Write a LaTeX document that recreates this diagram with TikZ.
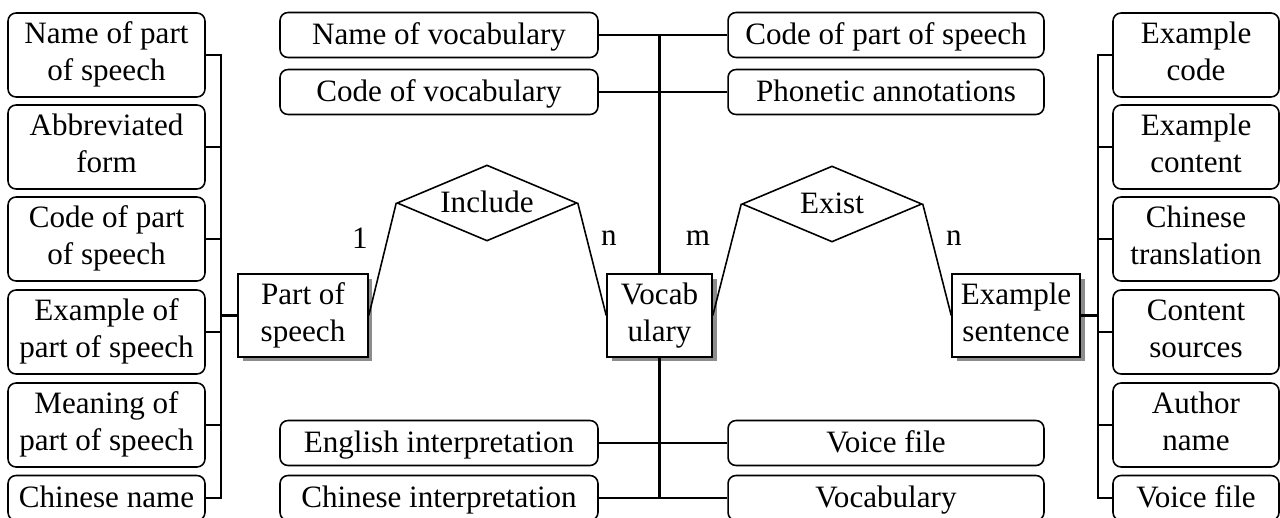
\documentclass[tikz,border=0pt]{standalone}
\usepackage{fontspec}
\setmainfont{Liberation Serif}
\usepackage{xcolor}
\usepackage{tikz}
\usetikzlibrary{shapes,arrows,positioning,shadows}

\newcommand{\erstrut}{\rule[-4pt]{0pt}{18.5pt}}

\tikzset{
  attr/.style={rectangle, draw, rounded corners=0.16cm, line width=0.9pt, align=center, inner sep=0pt, minimum height=1.68cm, font=\fontsize{17.7}{21}\selectfont, execute at begin node=\erstrut, execute at end node=\erstrut},
  flat/.style={attr, minimum height=0.9cm},
  entity/.style={rectangle, draw, fill=white, line width=0.9pt, align=center, inner sep=0pt, minimum height=1.66cm, font=\fontsize{17.7}{21}\selectfont, execute at begin node=\erstrut, execute at end node=\erstrut, drop shadow={shadow xshift=0.09cm, shadow yshift=-0.09cm, fill=black!45, opacity=1}},
  rel/.style={diamond, draw, line width=0.9pt, aspect=2.37, minimum width=3.6cm, minimum height=1.52cm, inner sep=0pt, font=\fontsize{17.7}{21}\selectfont, execute at begin node=\erstrut},
  card/.style={font=\fontsize{17.7}{21}\selectfont},
  link/.style={line width=0.9pt},
  trunk/.style={line width=1.5pt}
}

\begin{document}
\begin{tikzpicture}[x=0.02cm, y=-0.02cm]
  \useasboundingbox (0,0) rectangle (1280,517);
  \clip (0,0) rectangle (1280,517);

  % entities and relations
  \node[entity, minimum width=2.6cm] (pos) at (303,315.5) {Part of\\speech};
  \node[entity, minimum width=2.1cm] (vocab) at (659.5,315.5) {Vocab\\ulary};
  \node[entity, minimum width=2.56cm] (exs) at (1016,315.5) {Example\\sentence};
  \node[rel] (incl) at (487,203) {Include};
  \node[rel] (exist) at (832,204) {Exist};

  \node[card] (c1) at (360,238) {1};
  \node[card] (c2) at (609,238) {n};
  \node[card] (c3) at (698,238) {m};
  \node[card] (c4) at (954,238) {n};

  \draw[link] (pos.east) -- (incl.west);
  \draw[link] (incl.east) -- (vocab.west);
  \draw[link] (vocab.east) -- (exist.west);
  \draw[link] (exist.east) -- (exs.west);

  % part of speech attributes
  \node[attr, minimum width=3.94cm] (pname) at (106.5,55) {Name of part\\of speech};
  \node[attr, minimum width=3.94cm] (pabbr) at (106.5,147) {Abbreviated\\form};
  \node[attr, minimum width=3.94cm] (pcode) at (106.5,239) {Code of part\\of speech};
  \node[attr, minimum width=3.94cm] (pexam) at (106.5,332) {Example of\\part of speech};
  \node[attr, minimum width=3.94cm] (pmean) at (106.5,425) {Meaning of\\part of speech};
  \node[flat, minimum width=3.94cm] (pchin) at (106.5,498) {Chinese name};

  \coordinate (lbusT) at (221,55);
  \coordinate (lbusB) at (221,498);
  \draw[link] (pname.east) -- (lbusT) -- (lbusB) -- (pchin.east);
  \foreach \n in {pabbr,pcode,pexam,pmean}
    \draw[link] (\n.east) -- (\n.east -| lbusT);
  \draw[trunk] (pos.west -| lbusT) -- (pos.west);

  % vocabulary attributes
  \node[flat, minimum width=6.36cm] (vname) at (439,35) {Name of vocabulary};
  \node[flat, minimum width=6.36cm] (vcode) at (439,92) {Code of vocabulary};
  \node[flat, minimum width=6.36cm] (veng) at (439,443) {English interpretation};
  \node[flat, minimum width=6.36cm] (vchin) at (439,498) {Chinese interpretation};
  \node[flat, minimum width=6.32cm] (vpcode) at (886,35) {Code of part of speech};
  \node[flat, minimum width=6.32cm] (vphon) at (886,92) {Phonetic annotations};
  \node[flat, minimum width=6.32cm] (vvoice) at (886,443) {Voice file};
  \node[flat, minimum width=6.32cm] (vvoc) at (886,498) {Vocabulary};

  \coordinate (vbusT) at (vname.east -| vocab.north);
  \coordinate (vbusB) at (vchin.east -| vocab.south);
  \draw[trunk] (vbusT) -- (vocab.north);
  \draw[trunk] (vocab.south) -- (vbusB);
  \draw[link] (vname.east) -- (vpcode.west);
  \draw[link] (vcode.east) -- (vphon.west);
  \draw[link] (veng.east) -- (vvoice.west);
  \draw[link] (vchin.east) -- (vvoc.west);

  % example sentence attributes
  \node[attr, minimum width=3.32cm] (ecode) at (1196,55) {Example\\code};
  \node[attr, minimum width=3.32cm] (econt) at (1196,147) {Example\\content};
  \node[attr, minimum width=3.32cm] (etrans) at (1196,239) {Chinese\\translation};
  \node[attr, minimum width=3.32cm] (esrc) at (1196,332) {Content\\sources};
  \node[attr, minimum width=3.32cm] (eauth) at (1196,425) {Author\\name};
  \node[flat, minimum width=3.32cm] (evoice) at (1196,498) {Voice file};

  \coordinate (rbusT) at (1098,55);
  \coordinate (rbusB) at (1098,498);
  \draw[link] (ecode.west) -- (rbusT) -- (rbusB) -- (evoice.west);
  \foreach \n in {econt,etrans,esrc,eauth}
    \draw[link] (\n.west) -- (\n.west -| rbusT);
  \draw[trunk] (exs.east) -- (exs.east -| rbusT);
\end{tikzpicture}
\end{document}
